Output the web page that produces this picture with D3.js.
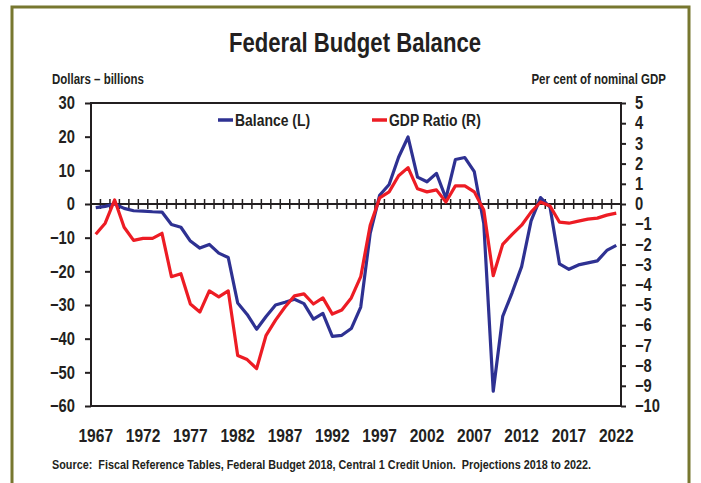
<!DOCTYPE html>
<html>
<head>
<meta charset="utf-8">
<script src="https://cdn.jsdelivr.net/npm/d3@7/dist/d3.min.js"></script>
<style>
  body { margin: 0; background: #fff; }
  svg text { font-family: "Liberation Sans", Arial, sans-serif; font-weight: bold; fill: #231f20; white-space: pre; }
</style>
</head>
<body>
<svg id="chart"></svg>
<script>
// Data: fiscal years 1967..2022
const years = d3.range(1967, 2023);
const balance = [
  -1.1, -0.7, 0.0, -1.3, -2.0, -2.1, -2.3, -2.4, -6.1, -6.9,
  -11.0, -13.1, -12.0, -14.6, -15.9, -29.4, -32.8, -37.2, -33.4, -30.0,
  -29.2, -28.3, -29.6, -34.2, -32.5, -39.3, -39.0, -37.0, -30.6, -8.7,
  2.6, 5.8, 13.9, 19.9, 8.0, 6.6, 9.1, 1.7, 13.2, 13.8,
  9.6, -5.8, -55.6, -33.4, -26.3, -18.6, -5.0, 1.9, -0.9, -17.8,
  -19.4, -18.1, -17.5, -16.9, -13.8, -12.3
];
const gdpRatio = [
  -1.5, -0.95, 0.2, -1.15, -1.8, -1.7, -1.7, -1.45, -3.6, -3.45,
  -4.95, -5.35, -4.3, -4.6, -4.3, -7.5, -7.7, -8.15, -6.5, -5.75,
  -5.1, -4.55, -4.45, -4.95, -4.65, -5.45, -5.25, -4.65, -3.6, -1.05,
  0.3, 0.6, 1.4, 1.8, 0.75, 0.6, 0.7, 0.1, 0.9, 0.9,
  0.6, -0.3, -3.55, -2.0, -1.5, -1.05, -0.4, 0.1, -0.1, -0.9,
  -0.95, -0.85, -0.75, -0.7, -0.55, -0.45
];
const leftTicks = [30, 20, 10, 0, -10, -20, -30, -40, -50, -60];
const rightTicks = [5, 4, 3, 2, 1, 0, -1, -2, -3, -4, -5, -6, -7, -8, -9, -10];
const xTickLabels = [1967, 1972, 1977, 1982, 1987, 1992, 1997, 2002, 2007, 2012, 2017, 2022];
const seriesNames = ['Balance (L)', 'GDP Ratio (R)'];
const seriesColors = ['#2e3192', '#ed1c24'];

const width = 701, height = 483;
const plot = { left: 91, right: 621, top: 103, bottom: 406 };
const NARROW = 0.82; // squeeze text horizontally, the original uses a condensed face

const svg = d3.select('#chart').attr('width', width).attr('height', height);

// place a horizontally condensed text label
function label(xp, yp, str, size, anchor = 'start') {
  return svg.append('text')
    .attr('transform', `translate(${xp},${yp}) scale(${NARROW},1)`)
    .attr('text-anchor', anchor)
    .attr('font-size', size)
    .text(str);
}

// outer olive frame
svg.append('rect')
  .attr('x', 12).attr('y', 7)
  .attr('width', 677).attr('height', 500)
  .attr('fill', 'none')
  .attr('stroke', '#77772f')
  .attr('stroke-width', 3);

const x = d3.scaleBand().domain(years).range([plot.left, plot.right]).padding(0);
const yL = d3.scaleLinear().domain([-60, 30]).range([plot.bottom, plot.top]);
const yR = d3.scaleLinear().domain([-10, 5]).range([plot.bottom, plot.top]);
const cx = d => x(d) + x.bandwidth() / 2;

// title and axis captions
label(355, 52, 'Federal Budget Balance', 27, 'middle');
label(52, 84, 'Dollars \u2013 billions', 14);
label(666, 84, 'Per cent of nominal GDP', 14, 'end');

// plot frame
svg.append('rect')
  .attr('x', plot.left).attr('y', plot.top)
  .attr('width', plot.right - plot.left)
  .attr('height', plot.bottom - plot.top)
  .attr('fill', 'none')
  .attr('stroke', '#231f20')
  .attr('stroke-width', 2);

// axes
const styleAxis = (g, size) => {
  g.select('.domain').remove();
  g.selectAll('.tick line').attr('stroke', '#231f20').attr('stroke-width', 2);
  g.selectAll('.tick text')
    .attr('font-size', size)
    .attr('fill', '#231f20')
    .style('font-family', '"Liberation Sans", Arial, sans-serif')
    .style('font-weight', 'bold')
    .attr('x', function() { return (+this.getAttribute('x') || 0) / NARROW; })
    .attr('transform', `scale(${NARROW},1)`);
};

svg.append('g')
  .attr('transform', `translate(${plot.left},0)`)
  .call(d3.axisLeft(yL).tickValues(leftTicks).tickSize(6).tickPadding(10))
  .call(g => styleAxis(g, 18));

svg.append('g')
  .attr('transform', `translate(${plot.right},0)`)
  .call(d3.axisRight(yR).tickValues(rightTicks).tickSize(5).tickPadding(9))
  .call(g => styleAxis(g, 18));

svg.append('g')
  .attr('transform', `translate(0,${plot.bottom})`)
  .call(d3.axisBottom(x).tickValues(xTickLabels).tickSize(0).tickPadding(23))
  .call(g => styleAxis(g, 19));

// zero line with cross ticks at category boundaries
const y0 = yL(0);
svg.append('line')
  .attr('x1', plot.left).attr('x2', plot.right)
  .attr('y1', y0).attr('y2', y0)
  .attr('stroke', '#231f20').attr('stroke-width', 2);

svg.append('g').selectAll('line')
  .data(years.slice(1))
  .join('line')
  .attr('x1', d => x(d)).attr('x2', d => x(d))
  .attr('y1', y0 - 5).attr('y2', y0 + 5)
  .attr('stroke', '#231f20').attr('stroke-width', 1.5);

// series lines
const lineL = d3.line().x((d, i) => cx(years[i])).y(d => yL(d));
const lineR = d3.line().x((d, i) => cx(years[i])).y(d => yR(d));

svg.append('path')
  .attr('d', lineL(balance))
  .attr('fill', 'none')
  .attr('stroke', seriesColors[0])
  .attr('stroke-width', 3.2)
  .attr('stroke-linejoin', 'round');

svg.append('path')
  .attr('d', lineR(gdpRatio))
  .attr('fill', 'none')
  .attr('stroke', seriesColors[1])
  .attr('stroke-width', 3.2)
  .attr('stroke-linejoin', 'round');

// legend
const legendX = [218, 372];
const legend = svg.append('g').selectAll('g')
  .data(seriesNames)
  .join('g')
  .attr('transform', (d, i) => `translate(${legendX[i]},120)`);

legend.append('line')
  .attr('x1', 0).attr('x2', 15)
  .attr('stroke', (d, i) => seriesColors[i])
  .attr('stroke-width', 3.5);

legend.append('text')
  .attr('transform', `translate(17,6) scale(${NARROW},1)`)
  .attr('font-size', 17)
  .text(d => d);

// source note
label(52, 469, 'Source:  Fiscal Reference Tables, Federal Budget 2018, Central 1 Credit Union.  Projections 2018 to 2022.', 13.2);
</script>
</body>
</html>
